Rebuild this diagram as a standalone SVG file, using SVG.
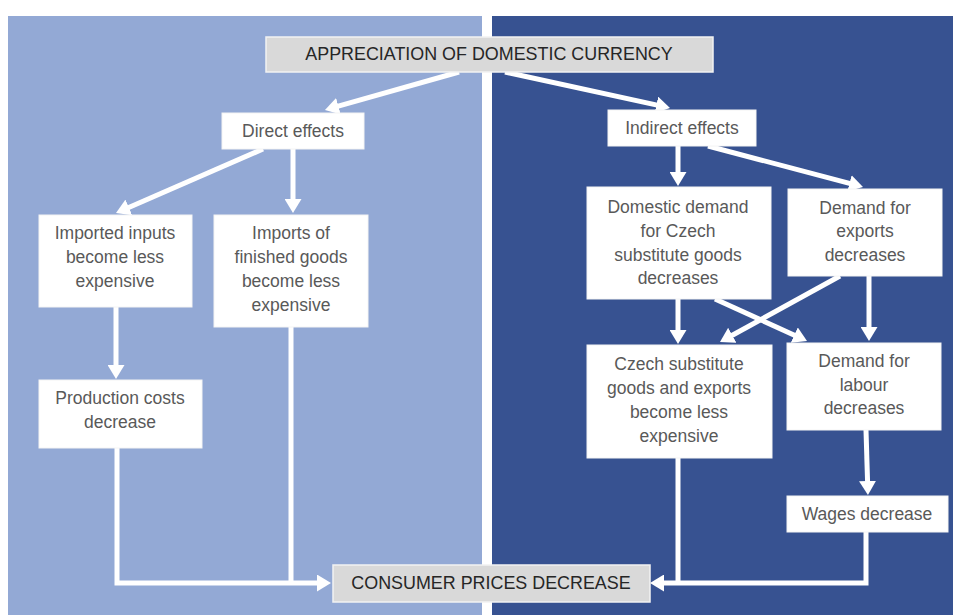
<svg xmlns="http://www.w3.org/2000/svg" width="953" height="615" viewBox="0 0 953 615">
<style>
.box{fill:#ffffff;stroke:#f4f4f4;stroke-width:1}
.gbox{fill:#d9d9d9;stroke:#f2f2f2;stroke-width:1.5}
.t{font-family:"Liberation Sans",Arial,sans-serif;font-size:17.5px;fill:#595959;text-anchor:middle}
.tc{font-family:"Liberation Sans",Arial,sans-serif;font-size:17.9px;fill:#262626;text-anchor:middle}
.c{fill:none;stroke:#ffffff;stroke-width:5;stroke-linejoin:miter}
.a{marker-end:url(#ah)}
</style>
<defs>
<marker id="ah" markerUnits="userSpaceOnUse" viewBox="0 0 14 17" markerWidth="14" markerHeight="17" refX="2" refY="8.5" orient="auto">
<path d="M0,0 L14,8.5 L0,17 z" fill="#ffffff"/>
</marker>
</defs>
<rect x="0" y="0" width="953" height="615" fill="#ffffff"/>
<rect id="panel-left" x="8" y="16" width="474" height="599" fill="#93a9d5"/>
<rect id="panel-right" x="492" y="16" width="461" height="599" fill="#375291"/>

<g id="connectors">
<path class="c a" d="M459,72 L336.5,106.7"/>
<path class="c a" d="M505,72 L658.3,105.4"/>
<path class="c a" d="M263,149 L127,208.2"/>
<path class="c a" d="M293,149 L293,201"/>
<path class="c a" d="M116,307 L116,367"/>
<path class="c a" d="M117,448 L117,583 L319,583"/>
<path class="c" d="M291,327 L291,583"/>
<path class="c a" d="M678,146 L678,174"/>
<path class="c a" d="M708,146 L851.4,183.9"/>
<path class="c a" d="M678,299 L678,332"/>
<path class="c a" d="M715,299 L796.1,336"/>
<path class="c a" d="M840,276 L730.5,336.2"/>
<path class="c a" d="M869,276 L869,329"/>
<path class="c a" d="M866,430 L867.6,483"/>
<path class="c" d="M678,458 L678,583"/>
<path class="c a" d="M866,532 L866,583 L662,583"/>
</g>

<g id="appreciation">
<rect class="gbox" x="266" y="37" width="447" height="35"/>
<text class="tc" x="489" y="60">APPRECIATION OF DOMESTIC CURRENCY</text>
</g>
<g id="direct-effects">
<rect class="box" x="222" y="113" width="142" height="36"/>
<text class="t" x="293" y="137">Direct effects</text>
</g>
<g id="indirect-effects">
<rect class="box" x="608" y="110" width="148" height="36"/>
<text class="t" x="682" y="134">Indirect effects</text>
</g>
<g id="imported-inputs">
<rect class="box" x="39" y="215" width="153" height="92"/>
<text class="t" x="115" y="239">Imported inputs</text>
<text class="t" x="115" y="263">become less</text>
<text class="t" x="115" y="287">expensive</text>
</g>
<g id="imports-finished">
<rect class="box" x="214" y="215" width="154" height="112"/>
<text class="t" x="291" y="239">Imports of</text>
<text class="t" x="291" y="263">finished goods</text>
<text class="t" x="291" y="287">become less</text>
<text class="t" x="291" y="311">expensive</text>
</g>
<g id="production-costs">
<rect class="box" x="39" y="380" width="163" height="68"/>
<text class="t" x="120" y="404">Production costs</text>
<text class="t" x="120" y="428">decrease</text>
</g>
<g id="domestic-demand">
<rect class="box" x="587" y="187" width="184" height="112"/>
<text class="t" x="678" y="213">Domestic demand</text>
<text class="t" x="678" y="237">for Czech</text>
<text class="t" x="678" y="261">substitute goods</text>
<text class="t" x="678" y="284">decreases</text>
</g>
<g id="demand-exports">
<rect class="box" x="788" y="189" width="154" height="87"/>
<text class="t" x="865" y="214">Demand for</text>
<text class="t" x="865" y="237">exports</text>
<text class="t" x="865" y="261">decreases</text>
</g>
<g id="czech-substitute">
<rect class="box" x="587" y="345" width="185" height="113"/>
<text class="t" x="679" y="370">Czech substitute</text>
<text class="t" x="679" y="394">goods and exports</text>
<text class="t" x="679" y="418">become less</text>
<text class="t" x="679" y="442">expensive</text>
</g>
<g id="demand-labour">
<rect class="box" x="787" y="343" width="154" height="87"/>
<text class="t" x="864" y="367">Demand for</text>
<text class="t" x="864" y="391">labour</text>
<text class="t" x="864" y="414">decreases</text>
</g>
<g id="wages">
<rect class="box" x="787" y="496" width="161" height="36"/>
<text class="t" x="867" y="520">Wages decrease</text>
</g>
<g id="consumer-prices">
<rect class="gbox" x="333" y="565" width="317" height="37"/>
<text class="tc" x="491" y="589">CONSUMER PRICES DECREASE</text>
</g>
</svg>
